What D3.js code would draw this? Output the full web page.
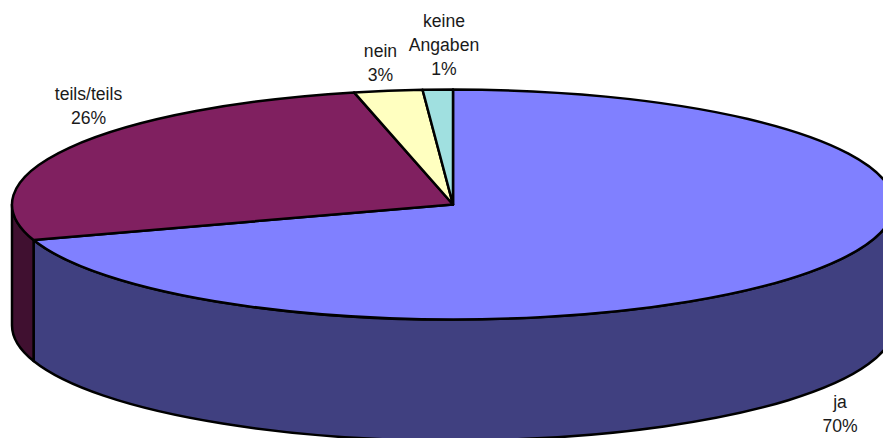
<!DOCTYPE html>
<html><head><meta charset="utf-8">
<script src="https://cdn.jsdelivr.net/npm/d3@7"></script>
<style>html,body{margin:0;padding:0;background:#fff}svg{display:block}</style>
</head><body><svg id="c" width="883" height="438"></svg>
<script>
const categories = ["ja", "teils/teils", "nein", "keine Angaben"];
const values = [70.0, 26.4, 2.5, 1.1];
const percentLabels = ["70%", "26%", "3%", "1%"];
const topColors = ["#8080FF", "#802060", "#FFFFC0", "#A0E0E0"];
const sideColors = ["#404080", "#401030", "#808060", "#507070"];
const labelLines = [["ja"], ["teils/teils"], ["nein"], ["keine", "Angaben"]];
const labelAnchors = [[840, 402], [88.5, 94], [380.5, 50.5], [444, 20.5]];

const cx = 453, cy = 204.5, rx = 441, ry = 115, depth = 121;
const svg = d3.select("#c");
const arcs = d3.pie().sort(null).value(d => d)(values);
const px = a => cx + rx * Math.sin(a);
const py = a => cy - ry * Math.cos(a);
const stroke = {stroke: "#000", w: 2.5};

function wall(a0, a1) {
  const s = Math.max(a0, Math.PI / 2), e = Math.min(a1, 3 * Math.PI / 2);
  if (e <= s) return null;
  return `M${px(s)},${py(s)}A${rx},${ry} 0 ${e - s > Math.PI ? 1 : 0} 1 ${px(e)},${py(e)}` +
         `L${px(e)},${py(e) + depth}A${rx},${ry} 0 ${e - s > Math.PI ? 1 : 0} 0 ${px(s)},${py(s) + depth}Z`;
}
arcs.forEach((d, i) => {
  const p = wall(d.startAngle, d.endAngle);
  if (p) svg.append("path").attr("d", p).attr("fill", sideColors[i])
    .attr("stroke", stroke.stroke).attr("stroke-width", stroke.w).attr("stroke-linejoin", "round");
});
arcs.forEach((d, i) => {
  const large = d.endAngle - d.startAngle > Math.PI ? 1 : 0;
  svg.append("path")
    .attr("d", `M${cx},${cy}L${px(d.startAngle)},${py(d.startAngle)}A${rx},${ry} 0 ${large} 1 ${px(d.endAngle)},${py(d.endAngle)}Z`)
    .attr("fill", topColors[i]).attr("stroke", stroke.stroke).attr("stroke-width", stroke.w).attr("stroke-linejoin", "round");
});
categories.forEach((c, i) => {
  const t = svg.append("text").attr("text-anchor", "middle")
    .attr("font-family", "Liberation Sans, Arial, sans-serif").attr("font-size", 17.6).attr("fill", "#1a1a1a");
  const lines = labelLines[i].concat(percentLabels[i]);
  lines.forEach((l, j) => t.append("tspan").attr("x", labelAnchors[i][0])
    .attr("y", labelAnchors[i][1] + 6 + j * 24).text(l));
});
</script></body></html>
